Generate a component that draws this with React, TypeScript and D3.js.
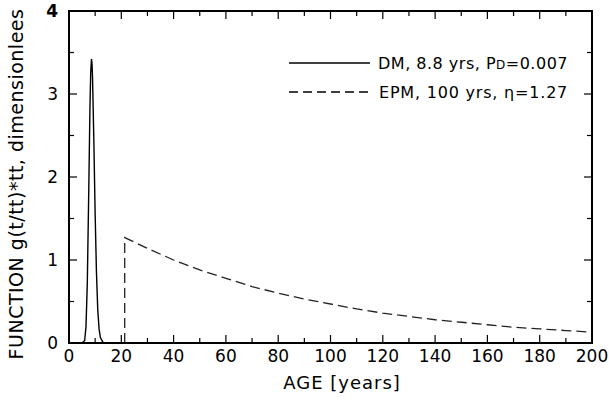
import React from "react";
import * as d3 from "d3";

// DM curve: age (years) and g(t/tt)*tt
const dmAge = [0, 4, 5, 6, 6.5, 7, 7.5, 8, 8.3, 8.6, 8.8, 9, 9.5, 10, 10.5, 11, 11.5, 12, 13, 14, 20, 35];
const dmValue = [0, 0, 0, 0.03, 0.2, 0.72, 1.72, 2.81, 3.26, 3.42, 3.37, 3.2, 2.44, 1.55, 0.85, 0.4, 0.17, 0.066, 0.008, 0, 0, 0];

// EPM curve
const epmAge = [21.3, 21.3, 30, 40, 50, 60, 70, 80, 90, 100, 110, 120, 130, 140, 150, 160, 170, 180, 190, 200];
const epmValue = [0, 1.27, 1.14, 1.0, 0.88, 0.78, 0.68, 0.6, 0.53, 0.47, 0.41, 0.36, 0.32, 0.28, 0.25, 0.22, 0.19, 0.17, 0.15, 0.13];

const xTicks = [0, 20, 40, 60, 80, 100, 120, 140, 160, 180, 200];
const xMinor = d3.range(10, 200, 20);
const yTicks = [0, 1, 2, 3, 4];
const yMinor = [0.5, 1.5, 2.5, 3.5];

const W = 609, H = 400;
const L = 69, R = 592, T = 11, B = 343;
const FONT = "DejaVu Sans, sans-serif";

export default function App() {
  const x = d3.scaleLinear().domain([0, 200]).range([L, R]);
  const y = d3.scaleLinear().domain([0, 4]).range([B, T]);
  const line = d3.line<[number, number]>().x(d => x(d[0])).y(d => y(d[1]));
  const dm = line(dmAge.map((a, i) => [a, dmValue[i]] as [number, number]))!;
  const epm = line(epmAge.map((a, i) => [a, epmValue[i]] as [number, number]))!;

  return (
    <svg width={W} height={H} style={{ position: "absolute", left: 0, top: 0, background: "#fff" }}>
      {/* ticks */}
      <g stroke="#000" strokeWidth={1.2}>
        {xTicks.map(t => (
          <g key={"xt" + t}>
            <line x1={x(t)} x2={x(t)} y1={B} y2={B - 8} />
            <line x1={x(t)} x2={x(t)} y1={T} y2={T + 8} />
          </g>
        ))}
        {xMinor.map(t => (
          <g key={"xm" + t}>
            <line x1={x(t)} x2={x(t)} y1={B} y2={B - 5} />
            <line x1={x(t)} x2={x(t)} y1={T} y2={T + 5} />
          </g>
        ))}
        {yTicks.map(t => (
          <g key={"yt" + t}>
            <line x1={L} x2={L + 8} y1={y(t)} y2={y(t)} />
            <line x1={R} x2={R - 8} y1={y(t)} y2={y(t)} />
          </g>
        ))}
        {yMinor.map(t => (
          <g key={"ym" + t}>
            <line x1={L} x2={L + 5} y1={y(t)} y2={y(t)} />
            <line x1={R} x2={R - 5} y1={y(t)} y2={y(t)} />
          </g>
        ))}
      </g>
      {/* curves */}
      <path d={dm} fill="none" stroke="#000" strokeWidth={1.4} />
      <path d={epm} fill="none" stroke="#222" strokeWidth={1.3} strokeDasharray="10,5" />
      {/* frame */}
      <rect x={L} y={T} width={R - L} height={B - T} fill="none" stroke="#000" strokeWidth={2} />
      {/* tick labels */}
      <g fontFamily={FONT} fontSize={17} fill="#000">
        {xTicks.map(t => (
          <text key={"xl" + t} x={x(t)} y={362} textAnchor="middle">{t}</text>
        ))}
        {yTicks.map(t => (
          <text key={"yl" + t} x={58} y={y(t) + 6} textAnchor="end" fontWeight={t === 4 ? "bold" : "normal"}>{t}</text>
        ))}
      </g>
      {/* axis titles */}
      <text x={342} y={389} textAnchor="middle" fontFamily={FONT} fontSize={18} letterSpacing={1}>AGE [years]</text>
      <text transform="translate(23,184) rotate(-90)" textAnchor="middle" fontFamily={FONT} fontSize={19} letterSpacing={0.5}>
        FUNCTION g(t/tt)*tt, dimensionlees
      </text>
      {/* legend */}
      <line x1={289} x2={370} y1={63} y2={63} stroke="#000" strokeWidth={1.4} />
      <line x1={289} x2={370} y1={92} y2={92} stroke="#000" strokeWidth={1.3} strokeDasharray="9,5" />
      <g fontFamily={FONT} fontSize={16} letterSpacing={0.5}>
        <text x={378} y={69}>DM, 8.8 yrs, P<tspan fontSize={12}>D</tspan>=0.007</text>
        <text x={379} y={98} letterSpacing={0.8}>EPM, 100 yrs, η=1.27</text>
      </g>
    </svg>
  );
}
